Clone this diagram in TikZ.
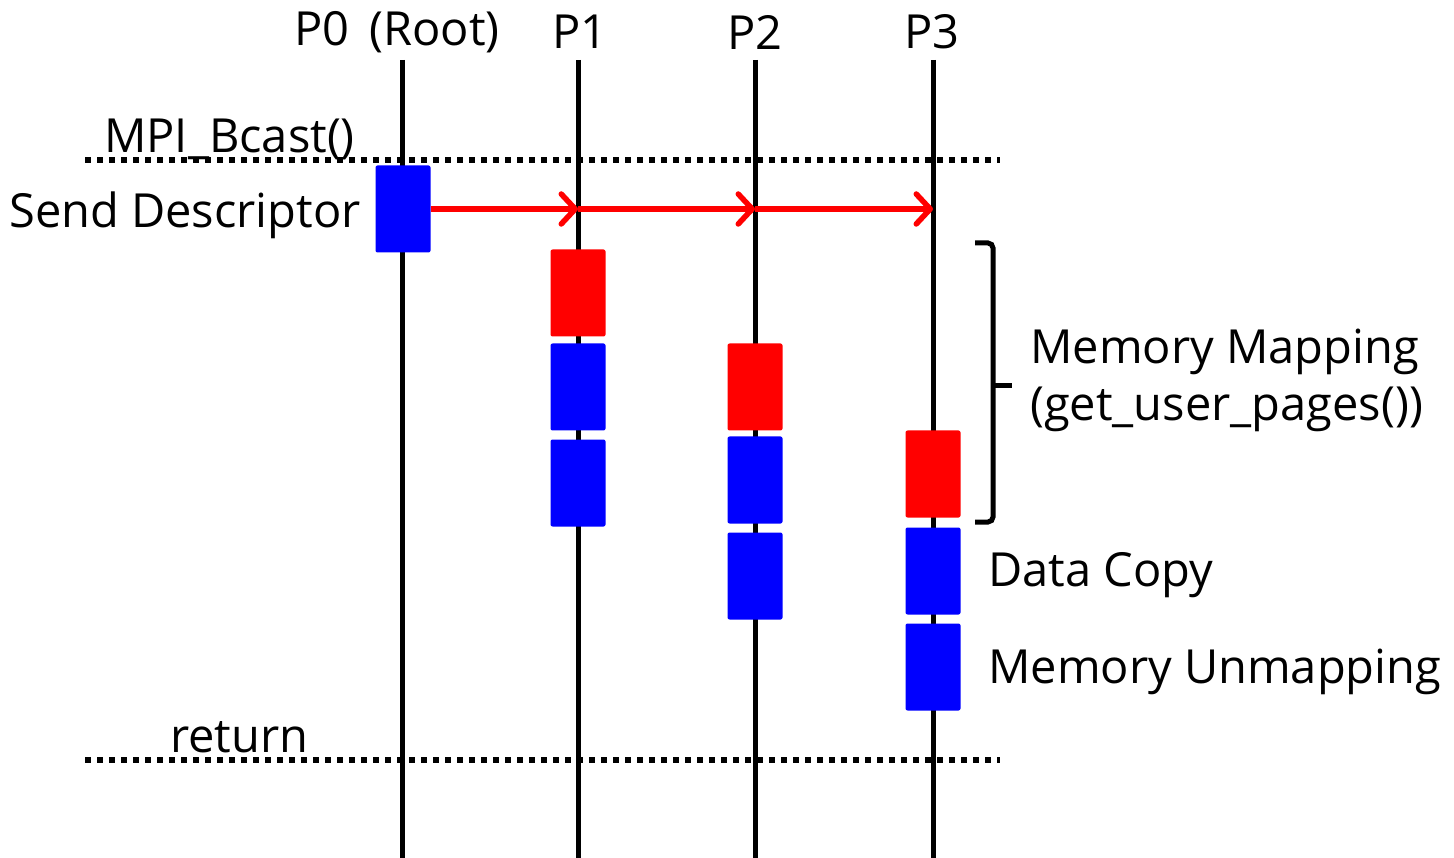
\documentclass[tikz,border=0pt]{standalone}
\usepackage{fontspec}
\setmainfont{Open Sans}
\usetikzlibrary{arrows.meta}
\tikzset{
  life/.style={line width=5pt},
  sep/.style={line width=6pt, dash pattern=on 6pt off 6pt},
  blk/.style={fill=blue, draw=none, rounded corners=2pt, minimum width=55pt, minimum height=87pt, inner sep=0pt},
  redblk/.style={blk, fill=red},
  msg/.style={draw=red, line width=5.5pt, -{Straight Barb[length=14pt,width=30pt,line width=5.5pt,round]}},
  lbl/.style={font=\fontsize{47}{57}\selectfont, inner sep=0pt},
  bracestyle/.style={line width=5pt, rounded corners=5pt},
}
\begin{document}
\begin{tikzpicture}[x=1pt,y=-1pt]
\useasboundingbox (0,0) rectangle (1454,858);
% lifelines
\foreach \n/\x in {0/402,1/578,2/755,3/933}{
  \coordinate (t\n) at (\x,60);
  \coordinate (b\n) at (\x,858);
  \draw[life] (t\n) -- (b\n);
}
% labels
\node[lbl] (lp0) at (397,32) {P0\, (Root)};
\node[lbl] (lp1) at (580,32) {P1};
\node[lbl] (lp2) at (755,32) {P2};
\node[lbl] (lp3) at (932,32) {P3};
% separators
\coordinate (s1a) at (85,160); \coordinate (s1b) at (1000,160);
\coordinate (s2a) at (85,760); \coordinate (s2b) at (1000,760);
\draw[sep] (s1a) -- (s1b);
\draw[sep] (s2a) -- (s2b);
\node[lbl, anchor=base west] (mpi) at (104,153) {MPI\_Bcast()};
\node[lbl, anchor=base west] (ret) at (170,752) {return};
% blocks
\node[blk] (s0) at (403,209) {};
\node[lbl, anchor=east] (sd) at (361,215) {Send Descriptor};
\node[redblk] (m1) at (578,293) {};
\node[blk] (c1) at (578,387) {};
\node[blk] (u1) at (578,483) {};
\node[redblk] (m2) at (755,387) {};
\node[blk] (c2) at (755,480) {};
\node[blk] (u2) at (755,576) {};
\node[redblk] (m3) at (933,474) {};
\node[blk] (c3) at (933,571) {};
\node[blk] (u3) at (933,667) {};
% arrows
\coordinate (a1) at (578,209);
\coordinate (a2) at (755,209);
\coordinate (a3) at (933,209);
\draw[msg] (s0.east) -- (a1);
\draw[msg] (a1) -- (a2);
\draw[msg] (a2) -- (a3);
% brace
\coordinate (br1) at (975,243);
\coordinate (brm) at (993,386);
\coordinate (br2) at (975,522);
\coordinate (brt) at (1012,386);
\draw[bracestyle] (br1) -| (brm) |- (br2);
\draw[bracestyle] (brm) -- (brt);
\node[lbl, anchor=west, align=left] (mm) at (1030,380) {Memory Mapping\\(get\_user\_pages())};
\node[lbl, anchor=west] (dc) at (988,575) {Data Copy};
\node[lbl, anchor=west] (mu) at (988,672) {Memory Unmapping};
\end{tikzpicture}
\end{document}
